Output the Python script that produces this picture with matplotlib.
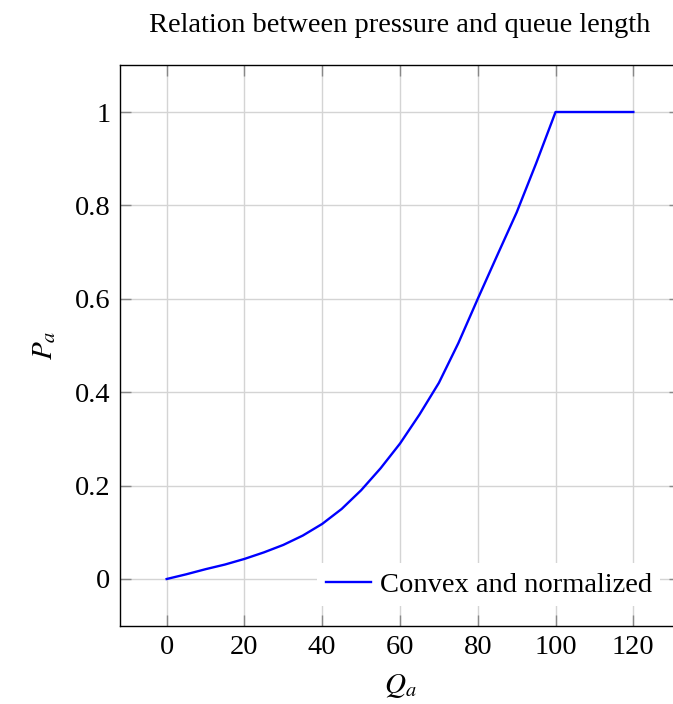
import matplotlib
matplotlib.use("Agg")
import matplotlib.pyplot as plt

plt.rcParams['font.family'] = ['Liberation Serif', 'DejaVu Serif']
plt.rcParams['mathtext.fontset'] = 'stix'

# Data
q_values = [0, 5, 10, 15, 20, 25, 30, 35, 40, 45, 50, 55, 60, 65, 70, 75, 80, 85, 90, 95, 100, 120]
p_values = [0, 0.010, 0.021, 0.031, 0.043, 0.057, 0.073, 0.093, 0.118, 0.150, 0.190, 0.237,
            0.290, 0.352, 0.420, 0.505, 0.600, 0.693, 0.785, 0.890, 1.0, 1.0]
x_ticks = [0, 20, 40, 60, 80, 100, 120]
y_ticks = [0, 0.2, 0.4, 0.6, 0.8, 1]
y_tick_labels = ['0', '0.2', '0.4', '0.6', '0.8', '1']
series_label = 'Convex and normalized'
title = 'Relation between pressure and queue length'

W, H = 673, 704
fig = plt.figure(figsize=(W / 100, H / 100), dpi=100)
left, right, top, bottom = 120, 680, 65.3, 625.7
ax = fig.add_axes([left / W, (H - bottom) / H, (right - left) / W, (bottom - top) / H])

ax.plot(q_values, p_values, color='#0000ff', lw=1.7, label=series_label, zorder=3)
ax.set_xlim(-12, 132)
ax.set_ylim(-0.1, 1.1)
ax.set_xticks(x_ticks)
ax.set_yticks(y_ticks)
ax.set_yticklabels(y_tick_labels)
ax.grid(True, color='#d4d4d4', lw=1.0)
ax.set_axisbelow(True)
fs = 20.5
ax.tick_params(direction='in', length=8, width=1, color='#888888', labelsize=fs,
               top=True, right=True, pad=7)
for s in ax.spines.values():
    s.set_linewidth(1.0)
    s.set_color('black')

ax.set_xlabel(r'$Q_a$', fontsize=21, labelpad=8)
ax.set_ylabel(r'$P_a$', fontsize=21, labelpad=12)
ax.set_title(title, fontsize=fs, pad=24)

leg = ax.legend(loc='lower right', bbox_to_anchor=(0.965, 0.035), fontsize=fs,
                frameon=True, facecolor='white', edgecolor='none', framealpha=1,
                fancybox=False, handlelength=1.6, handletextpad=0.3,
                borderpad=0.3, borderaxespad=0.0)

fig.savefig('out.png', dpi=100)
